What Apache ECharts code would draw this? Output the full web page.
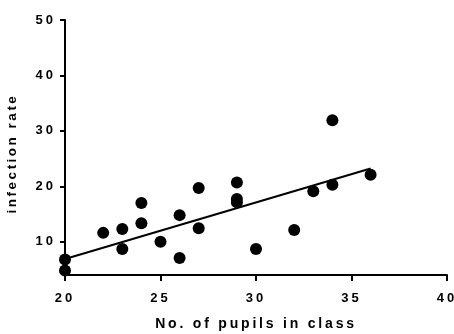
<!DOCTYPE html>
<html><head><meta charset="utf-8">
<script src="https://cdn.jsdelivr.net/npm/echarts@6/dist/echarts.min.js"></script>
<style>
html,body{margin:0;padding:0;background:#fff;}
#c{width:454px;height:334px;}
</style></head>
<body><div id="c"></div>
<script>
// Data
const pupils = [20, 20, 22, 23, 23, 24, 24, 25, 26, 26, 27, 27, 29, 29, 29, 30, 32, 33, 34, 34, 36];
const infection = [6.8, 4.8, 11.6, 12.3, 8.7, 17.0, 13.35, 10.0, 14.8, 7.05, 19.7, 12.45, 20.7, 17.7, 17.1, 8.7, 12.1, 19.1, 20.3, 31.9, 22.1];
const fitX = [20, 36];
const fitY = [6.9, 23.2];
const xTicks = [20, 25, 30, 35, 40];
const yTicks = [10, 20, 30, 40, 50];

// letter-spaced text (as in the reference)
(function () {
  const d = Object.getOwnPropertyDescriptor(CanvasRenderingContext2D.prototype, 'font');
  if (d && d.set && 'letterSpacing' in CanvasRenderingContext2D.prototype) {
    Object.defineProperty(CanvasRenderingContext2D.prototype, 'font', {
      get: d.get,
      set: function (v) {
        d.set.call(this, v);
        const m = /(\d+(?:\.\d+)?)px/.exec(v);
        const size = m ? parseFloat(m[1]) : 12;
        this.letterSpacing = size >= 14 ? '2.8px' : (size > 13 ? '2.5px' : '3px');
      },
      configurable: true
    });
  }
})();

const chart = echarts.init(document.getElementById('c'), null, {renderer: 'canvas'});
const font = 'Liberation Sans, Arial, sans-serif';
chart.setOption({
  animation: false,
  grid: {left: 65, right: 7, top: 20, bottom: 59, containLabel: false, outerBoundsMode: 'none'},
  xAxis: {
    type: 'value', min: 20, max: 40, interval: 5,
    name: 'No. of pupils in class', nameLocation: 'middle', nameGap: 41,
    nameTextStyle: {color: '#000', fontFamily: font, fontWeight: 'bold', fontSize: 14},
    axisLine: {lineStyle: {color: '#000', width: 2}},
    axisTick: {show: true, length: 6, lineStyle: {color: '#000', width: 2}, customValues: xTicks},
    axisLabel: {color: '#000', fontFamily: font, fontWeight: 'bold', fontSize: 13, margin: 15, customValues: xTicks},
    splitLine: {show: false}
  },
  yAxis: {
    type: 'value', min: 4, max: 50,
    name: 'infection rate', nameLocation: 'middle', nameGap: 44,
    nameTextStyle: {color: '#000', fontFamily: font, fontWeight: 'bold', fontSize: 13.5, padding: [0, 12, 0, 0]},
    axisLine: {show: true, lineStyle: {color: '#000', width: 2}},
    axisTick: {show: true, length: 5, lineStyle: {color: '#000', width: 2}, customValues: yTicks},
    axisLabel: {color: '#000', fontFamily: font, fontWeight: 'bold', fontSize: 13, margin: 9, customValues: yTicks},
    splitLine: {show: false}
  },
  series: [
    {
      type: 'line', data: fitX.map((x, i) => [x, fitY[i]]),
      symbol: 'none', lineStyle: {color: '#000', width: 2}, clip: false, z: 2
    },
    {
      type: 'scatter', data: pupils.map((x, i) => [x, infection[i]]),
      symbol: 'circle', symbolSize: 12, itemStyle: {color: '#000', opacity: 1}, clip: false, z: 3
    }
  ]
});
</script></body></html>
